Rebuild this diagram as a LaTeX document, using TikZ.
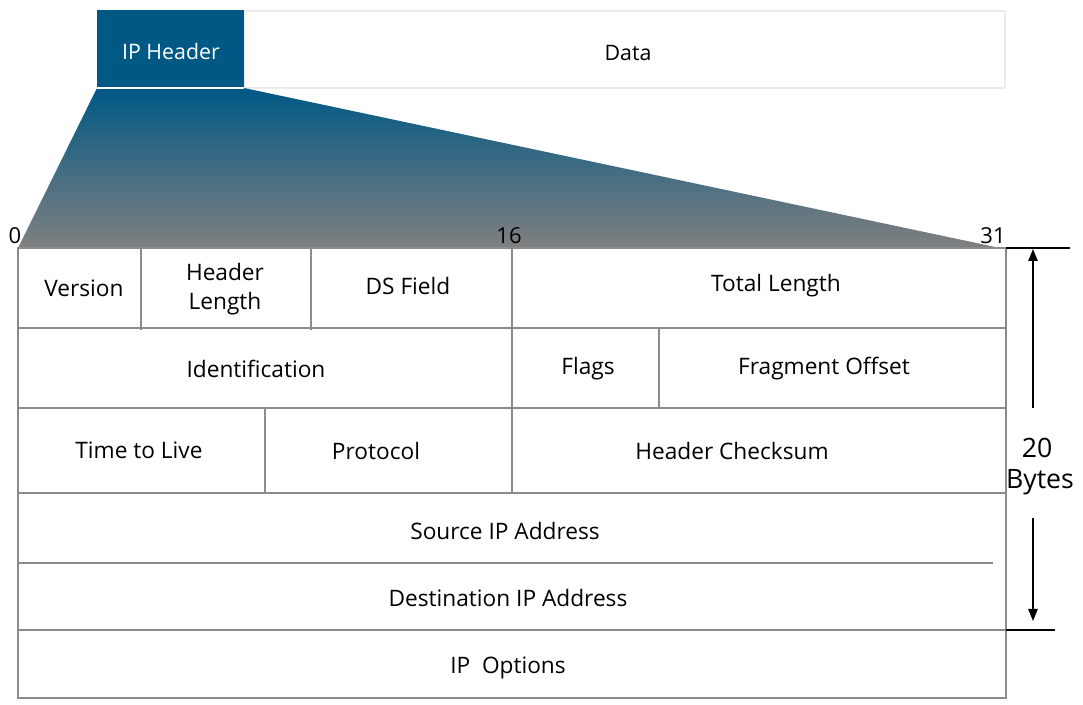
\documentclass[tikz,border=0pt]{standalone}
\usepackage{fontspec}
\setmainfont{Open Sans}
\usetikzlibrary{arrows.meta}
\definecolor{ipblue}{RGB}{0,88,133}
\definecolor{shadegray}{RGB}{128,128,128}
\definecolor{gridgray}{RGB}{140,140,140}
\definecolor{databorder}{RGB}{236,236,236}
\begin{document}
\begin{tikzpicture}[x=0.75pt,y=-0.75pt,
  lbl/.style={font=\fontsize{17}{22}\selectfont, inner sep=0pt, text=black, align=center},
  toplbl/.style={font=\fontsize{16}{20}\selectfont, inner sep=0pt},
  bitlbl/.style={font=\fontsize{16.5}{20}\selectfont, inner sep=0pt},
  sizelbl/.style={font=\fontsize{20}{24}\selectfont, inner sep=0pt, align=center},
  gridline/.style={draw=gridgray, line width=1pt},
  dimline/.style={draw=black, line width=1.2pt},
  dimarrow/.style={draw=black, line width=1.2pt, -{Triangle[length=9pt,width=7pt]}}]
\useasboundingbox (0,0) rectangle (1083,705);
\fill[white] (0,0) rectangle (1083,705);

% top packet
\draw[databorder, line width=1.5pt] (244,11) rectangle (1005,88);
\fill[ipblue] (97,10) rectangle (244,88);
\node[toplbl, text=white] (iph) at (171,52) {IP Header};
\node[toplbl] (data) at (628,53) {Data};

% expansion shading
\shade[top color=ipblue, bottom color=shadegray] (97,88) -- (244,88) -- (1000,248) -- (18,248) -- cycle;
\draw[white, line width=1pt] (97,88) -- (244,88);

% bit labels
\node[bitlbl] (b0) at (15,236) {0};
\node[bitlbl] (b16) at (509,236) {16};
\node[bitlbl] (b31) at (993,236) {31};

% grid
\draw[gridline] (18,248) rectangle (1006,698);
\draw[gridline] (18,328) -- (1006,328);
\draw[gridline] (18,408) -- (1006,408);
\draw[gridline] (18,493) -- (1006,493);
\draw[gridline] (18,563) -- (993,563);
\draw[gridline] (18,630) -- (1006,630);
\draw[gridline] (141,248) -- (141,330);
\draw[gridline] (311,248) -- (311,330);
\draw[gridline] (512,248) -- (512,493);
\draw[gridline] (659,328) -- (659,408);
\draw[gridline] (265,408) -- (265,493);

% field labels
\node[lbl] (ver) at (84,288) {Version};
\node[lbl] (hlen) at (225,289) {Header\\Length};
\node[lbl] (ds) at (408,286) {DS Field};
\node[lbl] (tlen) at (776,286) {Total Length};
\node[lbl] (ident) at (256,369) {Identification};
\node[lbl] (flags) at (588,369) {Flags};
\node[lbl] (frag) at (824,369) {Fragment Offset};
\node[lbl] (ttl) at (139,450) {Time to Live};
\node[lbl] (proto) at (376,451) {Protocol};
\node[lbl] (csum) at (732,451) {Header Checksum};
\node[lbl] (src) at (505,531) {Source IP Address};
\node[lbl] (dst) at (508,598) {Destination IP Address};
\node[lbl] (opt) at (508,668) {IP~~Options};

% size marker
\coordinate (dtop0) at (1006,248);
\coordinate (dtop1) at (1070,248);
\coordinate (dbot0) at (1006,630);
\coordinate (dbot1) at (1055,630);
\draw[dimline] (dtop0) -- (dtop1);
\draw[dimline] (dbot0) -- (dbot1);
\node[sizelbl] (n20) at (1037,448) {20};
\node[sizelbl] (bytes) at (1040,482) {Bytes};
\coordinate (aup0) at (1033,408);
\coordinate (aup1) at (1033,249);
\coordinate (adn0) at (1033,518);
\coordinate (adn1) at (1033,621);
\draw[dimarrow] (aup0) -- (aup1);
\draw[dimarrow] (adn0) -- (adn1);
\end{tikzpicture}
\end{document}
